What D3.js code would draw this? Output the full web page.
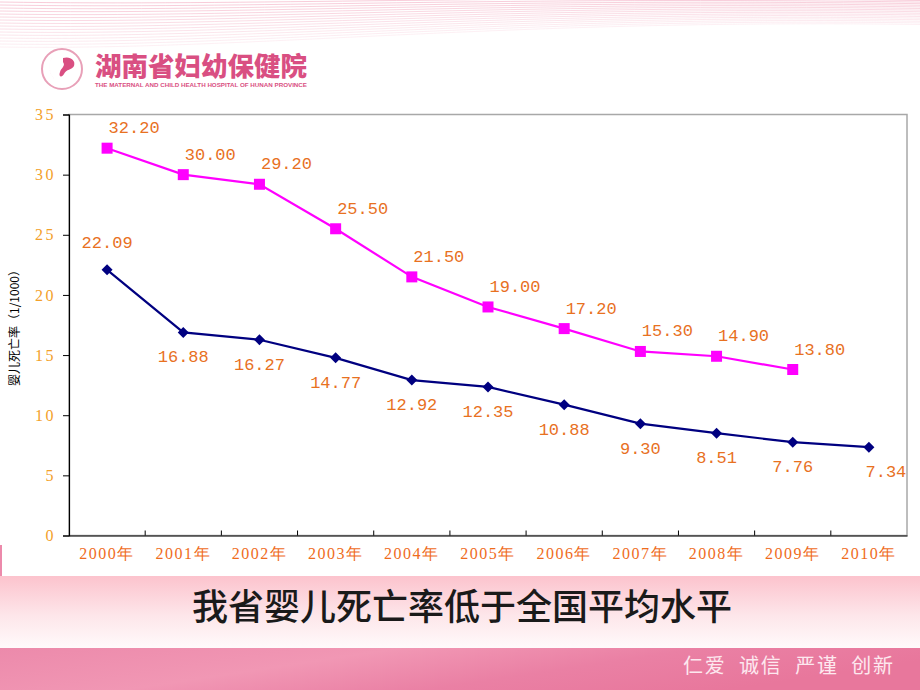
<!DOCTYPE html>
<html><head><meta charset="utf-8">
<script src="https://cdn.jsdelivr.net/npm/d3@7/dist/d3.min.js"></script>
<style>html,body{margin:0;padding:0;background:#fff;overflow:hidden}</style>
</head><body>
<svg id="c" width="920" height="690"></svg>
<script>
const categories = ["2000年","2001年","2002年","2003年","2004年","2005年","2006年","2007年","2008年","2009年","2010年"];
const nationalRate = [32.20,30.00,29.20,25.50,21.50,19.00,17.20,15.30,14.90,13.80];
const provinceRate = [22.09,16.88,16.27,14.77,12.92,12.35,10.88,9.30,8.51,7.76,7.34];
const yTicks = [0,5,10,15,20,25,30,35];
const provinceLabelPos = ["above","below","below","below","below","below","below","below","below","below","belowRight"];
const yTitle = "婴儿死亡率（1/1000）";
const title = "我省婴儿死亡率低于全国平均水平";
const slogan = "仁爱  诚信  严谨  创新";
const hospitalName = "湖南省妇幼保健院";
const hospitalEn = "THE MATERNAL AND CHILD HEALTH HOSPITAL OF HUNAN PROVINCE";

const svg = d3.select("#c");
const defs = svg.append("defs");

// top decorative stripes
const gTop = svg.append("g");
for (let i = 0; i < 16; i++) {
  const y0 = 2 + i * 3.0, y1 = 0.5 + i * 1.6;
  gTop.append("path")
    .attr("d", `M0,${y0} C250,${y0 + 4} 500,${y1 - 6} 920,${y1}`)
    .attr("fill", "none").attr("stroke", "#f4b3c6")
    .attr("stroke-width", 0.9).attr("opacity", 0.75 - i * 0.035);
}

// logo
const logo = svg.append("g");
logo.append("circle").attr("cx", 62).attr("cy", 69).attr("r", 20)
  .attr("fill", "#fff").attr("stroke", "#e8a0b8").attr("stroke-width", 2);
logo.append("path").attr("d", "M58,52 A17,17 0 1 0 76,82 A14,14 0 1 1 58,52 Z").attr("fill", "#d94f82");
logo.append("path").attr("d", "M63,58 C70,56 76,60 74,66 C72,70 66,69 64,74 C62,78 58,77 60,72 C61,68 66,66 63,62 Z").attr("fill", "#d94f82");
logo.append("text").attr("x", 95).attr("y", 76)
  .attr("font-family", "Noto Sans CJK SC").attr("font-weight", 900).attr("font-size", 26)
  .attr("fill", "#d94f82").attr("textLength", 212).attr("lengthAdjust", "spacingAndGlyphs")
  .text(hospitalName);
logo.append("text").attr("x", 95).attr("y", 87)
  .attr("font-family", "Liberation Sans").attr("font-weight", 700).attr("font-size", 6)
  .attr("fill", "#d94f82").attr("textLength", 212).attr("lengthAdjust", "spacingAndGlyphs")
  .text(hospitalEn);

// bottom bands
const g1 = defs.append("linearGradient").attr("id", "band1").attr("x1", 0).attr("y1", 0).attr("x2", 0).attr("y2", 1);
g1.append("stop").attr("offset", 0).attr("stop-color", "#fcc3cd");
g1.append("stop").attr("offset", 0.55).attr("stop-color", "#fde6ea");
g1.append("stop").attr("offset", 1).attr("stop-color", "#fffafb");
svg.append("rect").attr("x", 0).attr("y", 576).attr("width", 920).attr("height", 72).attr("fill", "url(#band1)");
const g2 = defs.append("linearGradient").attr("id", "band2").attr("x1", 0).attr("y1", 0).attr("x2", 1).attr("y2", 0.3);
g2.append("stop").attr("offset", 0).attr("stop-color", "#ec8aab");
g2.append("stop").attr("offset", 0.4).attr("stop-color", "#f197b4");
g2.append("stop").attr("offset", 0.7).attr("stop-color", "#ea80a4");
g2.append("stop").attr("offset", 1).attr("stop-color", "#e8779c");
svg.append("rect").attr("x", 0).attr("y", 648).attr("width", 920).attr("height", 42).attr("fill", "url(#band2)");
svg.append("rect").attr("x", 0).attr("y", 545).attr("width", 2).attr("height", 31).attr("fill", "#ec8aab");

svg.append("text").attr("x", 462).attr("y", 620).attr("text-anchor", "middle")
  .attr("font-family", "Noto Sans CJK SC").attr("font-weight", 500).attr("font-size", 36)
  .attr("fill", "#1a1a1a").attr("textLength", 540).attr("lengthAdjust", "spacingAndGlyphs").text(title);
svg.append("text").attr("x", 893).attr("y", 673).attr("text-anchor", "end")
  .attr("font-family", "Noto Sans CJK SC").attr("font-size", 20)
  .attr("fill", "#fde8ef").attr("xml:space", "preserve")
  .attr("textLength", 210).attr("lengthAdjust", "spacing").text(slogan);

// chart
const L = 69, R = 907, T = 114.5, B = 535.5;
const x = d3.scaleBand().domain(categories).range([L, R]);
const y = d3.scaleLinear().domain([0, 35]).range([B, T]);
const cx = c => x(c) + x.bandwidth() / 2;

const chart = svg.append("g");
chart.append("rect").attr("x", L).attr("y", T).attr("width", R - L).attr("height", B - T)
  .attr("fill", "#fff").attr("stroke", "#a8a8a8").attr("stroke-width", 1.5);

const yAxis = chart.append("g").attr("transform", `translate(${L},0)`)
  .call(d3.axisLeft(y).tickValues(yTicks).tickSize(6).tickPadding(7).tickFormat(d3.format("d")));
yAxis.select(".domain").attr("stroke", "#000").attr("stroke-width", 1.2);
yAxis.selectAll(".tick line").attr("stroke", "#000");
yAxis.selectAll("text").attr("font-family", "Liberation Serif").attr("font-size", 16)
  .attr("fill", "#f3a02a").attr("letter-spacing", 2.5);

const xAxis = chart.append("g").attr("transform", `translate(0,${B})`)
  .call(d3.axisBottom(x).tickSize(0).tickPadding(12));
xAxis.select(".domain").attr("stroke", "#000").attr("stroke-width", 1.2);
xAxis.selectAll("text").attr("font-family", "Liberation Serif").attr("font-size", 16)
  .attr("fill", "#ef6c1c").attr("letter-spacing", 1.5);
chart.selectAll(".btick").data(categories.slice(1)).join("line")
  .attr("x1", d => x(d)).attr("x2", d => x(d)).attr("y1", B).attr("y2", B - 5)
  .attr("stroke", "#000").attr("stroke-width", 1);

svg.append("text").attr("transform", `translate(19,325) rotate(-90)`)
  .attr("text-anchor", "middle").attr("font-family", "Noto Sans CJK SC").attr("font-size", 12)
  .attr("fill", "#000").text(yTitle);

const line = d3.line().x((d, i) => cx(categories[i])).y(d => y(d));

// national (magenta)
chart.append("path").datum(nationalRate).attr("d", line)
  .attr("fill", "none").attr("stroke", "#ff00ff").attr("stroke-width", 2.2);
chart.selectAll(".sq").data(nationalRate).join("rect")
  .attr("x", (d, i) => cx(categories[i]) - 5.5).attr("y", d => y(d) - 5.5)
  .attr("width", 11).attr("height", 11).attr("fill", "#ff00ff");

// province (navy)
chart.append("path").datum(provinceRate).attr("d", line)
  .attr("fill", "none").attr("stroke", "#000080").attr("stroke-width", 2.2);
chart.selectAll(".dm").data(provinceRate).join("path")
  .attr("d", "M0,-5.5 L5.5,0 L0,5.5 L-5.5,0 Z")
  .attr("transform", (d, i) => `translate(${cx(categories[i])},${y(d)})`)
  .attr("fill", "#000080");

const lblFont = "Liberation Mono";
chart.selectAll(".nl").data(nationalRate).join("text")
  .attr("x", (d, i) => cx(categories[i]) + 27).attr("y", d => y(d) - 15)
  .attr("text-anchor", "middle").attr("font-family", lblFont).attr("font-size", 17)
  .attr("fill", "#e8711f").text(d => d.toFixed(2));
chart.selectAll(".pl").data(provinceRate).join("text")
  .attr("x", (d, i) => cx(categories[i]) + (provinceLabelPos[i] === "belowRight" ? 17 : 0))
  .attr("y", (d, i) => y(d) + (provinceLabelPos[i] === "above" ? -22 : 30))
  .attr("text-anchor", "middle").attr("font-family", lblFont).attr("font-size", 17)
  .attr("fill", "#e8711f").text(d => d.toFixed(2));
</script>
</body></html>
